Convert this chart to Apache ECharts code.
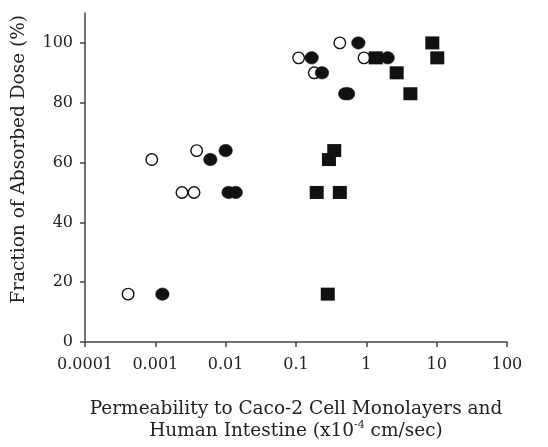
<!DOCTYPE html>
<html>
<head>
<meta charset="utf-8">
<script src="https://cdn.jsdelivr.net/npm/echarts@6/dist/echarts.min.js"></script>
<style>html,body{margin:0;padding:0;background:#fff}#c{width:548px;height:447px}</style>
</head>
<body>
<div id="c"></div>
<script>
// Open circles: [permeability, fraction absorbed]
var openCircles = [
  [0.00041, 16], [0.00089, 61], [0.00387, 64], [0.00239, 50], [0.00355, 50],
  [0.109, 95], [0.182, 90], [0.42, 100], [0.927, 95]
];
// Filled circles
var filledCircles = [
  [0.00126, 16], [0.00605, 61], [0.0100, 64], [0.0110, 50], [0.0139, 50],
  [0.167, 95], [0.234, 90], [0.50, 83], [0.55, 83], [0.77, 100], [2.01, 95]
];
// Filled squares
var filledSquares = [
  [0.197, 50], [0.42, 50], [0.294, 61], [0.35, 64], [0.283, 16],
  [1.36, 95], [2.7, 90], [4.23, 83], [8.67, 100], [10.2, 95]
];
var xTicks = [0.0001, 0.001, 0.01, 0.1, 1, 10, 100];
var xTickLabels = ['0.0001', '0.001', '0.01', '0.1', '1', '10', '100'];
var yTicks = [0, 20, 40, 60, 80, 100];
var yTickLabels = ['0', '20', '40', '60', '80', '100'];

var FONT = 'DejaVu Serif';
var chart = echarts.init(document.getElementById('c'), null, {renderer: 'canvas'});
chart.setOption({
  animation: false,
  backgroundColor: '#fff',
  grid: {left: 85, right: 41, top: 13, bottom: 104, containLabel: false},
  xAxis: {
    type: 'log', logBase: 10, min: 0.0001, max: 100,
    splitLine: {show: false},
    axisLine: {lineStyle: {color: '#444', width: 1.5}},
    axisTick: {show: true, length: 5, inside: false, lineStyle: {color: '#444', width: 1.5}},
    minorTick: {show: false},
    axisLabel: {
      color: '#222', fontFamily: FONT, fontSize: 16, margin: 15,
      formatter: function (v) {
        for (var i = 0; i < xTicks.length; i++) {
          if (Math.abs(Math.log10(v) - Math.log10(xTicks[i])) < 1e-6) return xTickLabels[i];
        }
        return '';
      }
    },
    name: 'Permeability to Caco-2 Cell Monolayers and\nHuman Intestine (x10{sup|-4} cm/sec)',
    nameLocation: 'middle', nameGap: 56,
    nameTextStyle: {
      color: '#222', fontFamily: FONT, fontSize: 18.5, lineHeight: 22,
      rich: {sup: {fontFamily: FONT, fontSize: 11, verticalAlign: 'top', color: '#222', lineHeight: 14, padding: [0, 0, 6, 0]}}
    }
  },
  yAxis: {
    type: 'value', min: 0, max: 110,
    splitLine: {show: false},
    axisLine: {show: true, lineStyle: {color: '#444', width: 1.5}},
    axisTick: {show: true, length: 5, customValues: yTicks, lineStyle: {color: '#444', width: 1.5}},
    axisLabel: {
      color: '#222', fontFamily: FONT, fontSize: 16, margin: 12,
      customValues: yTicks,
      formatter: function (v) {
        var i = yTicks.indexOf(v);
        return i >= 0 ? yTickLabels[i] : '';
      }
    }
  },
  graphic: [{
    type: 'text', left: 10, top: 15, rotation: Math.PI / 2,
    style: {text: 'Fraction of Absorbed Dose (%)', font: '18.5px "DejaVu Serif"', fill: '#222'},
    originX: 0, originY: 0
  }],
  series: [
    {
      type: 'scatter', name: 'open', data: openCircles, symbol: 'circle', symbolSize: 11.5,
      itemStyle: {color: '#fff', borderColor: '#111', borderWidth: 1.4, opacity: 1}, z: 2
    },
    {
      type: 'scatter', name: 'filled', data: filledCircles, symbol: 'circle', symbolSize: [13.5, 12.5],
      itemStyle: {color: '#111', borderColor: '#111', borderWidth: 0.5, opacity: 1}, z: 3
    },
    {
      type: 'scatter', name: 'square', data: filledSquares, symbol: 'rect', symbolSize: [14, 13],
      itemStyle: {color: '#111', opacity: 1}, z: 4
    }
  ]
});
</script>
</body>
</html>
